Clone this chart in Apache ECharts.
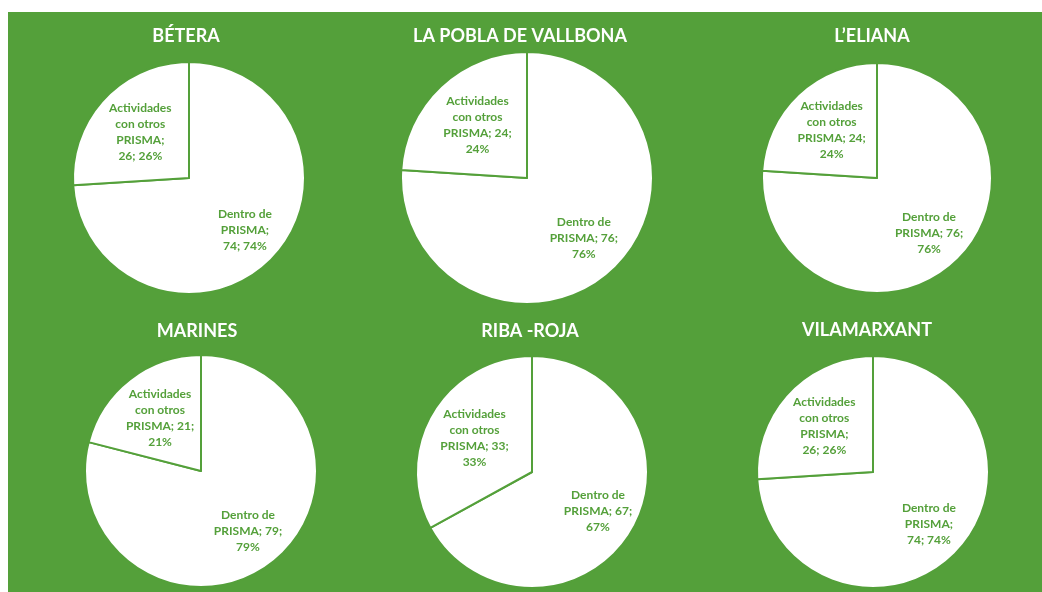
<!DOCTYPE html>
<html>
<head>
<meta charset="utf-8">
<script src="https://cdn.jsdelivr.net/npm/echarts@6/dist/echarts.min.js"></script>
<style>
  html, body { margin: 0; padding: 0; background: #fff; }
  #chart { position: absolute; left: 8px; top: 12px; width: 1034px; height: 580px; }
</style>
</head>
<body>
<div id="chart"></div>
<script>
// datos de cada municipio
const municipios = ['BÉTERA', 'LA POBLA DE VALLBONA', 'L’ELIANA', 'MARINES', 'RIBA -ROJA', 'VILAMARXANT'];
const categorias = ['Dentro de PRISMA', 'Actividades con otros PRISMA'];
const dentro = [74, 76, 76, 79, 67, 74];
const otros = [26, 24, 24, 21, 33, 26];
// como parte Excel las etiquetas: true -> "PRISMA;\n26; 26%"
const cortarAntesValor = [true, false, false, false, false, true];

const VERDE = '#54a03a';

// posicion de cada tarta dentro del grafico
const layout = [
  { cx: 181, cy: 166, r: 116, tx: 173, ty: 23 },
  { cx: 519, cy: 166, r: 126, tx: 507, ty: 23 },
  { cx: 869, cy: 166, r: 115, tx: 859, ty: 23 },
  { cx: 193, cy: 459, r: 116, tx: 184, ty: 318 },
  { cx: 524, cy: 460, r: 116, tx: 517, ty: 318 },
  { cx: 865, cy: 460, r: 116, tx: 854, ty: 317 }
];
// distancia de la etiqueta al centro (radio de la tarta auxiliar / radio real)
const factorEtiqueta = [1.27, 1.10];

const chart = echarts.init(document.getElementById('chart'));

const etiqueta = (corta) => (p) => {
  const head = p.dataIndex === 0 ? 'Dentro de' : 'Actividades\ncon otros';
  const pct = Math.round(p.percent) + '%';
  return corta
    ? head + '\nPRISMA;\n' + p.value + '; ' + pct
    : head + '\nPRISMA; ' + p.value + ';\n' + pct;
};

const series = [];
const titles = [];
municipios.forEach((m, i) => {
  const L = layout[i];
  const data = categorias.map((c, k) => ({ name: c, value: k === 0 ? dentro[i] : otros[i] }));
  titles.push({
    text: m,
    left: L.tx,
    top: L.ty - 13,
    textAlign: 'center',
    textStyle: { color: '#fff', fontSize: 18, fontWeight: 'bold', fontFamily: 'Lato' }
  });
  // tarta visible
  series.push({
    type: 'pie',
    center: [L.cx, L.cy],
    radius: [0, L.r],
    startAngle: 90,
    clockwise: true,
    silent: true,
    label: { show: false },
    labelLine: { show: false },
    itemStyle: { color: '#fff', borderColor: VERDE, borderWidth: 2 },
    data: data
  });
  // tartas invisibles solo para colocar cada etiqueta
  factorEtiqueta.forEach((f, k) => {
    series.push({
      type: 'pie',
      center: [L.cx, L.cy],
      radius: [0, L.r * f],
      startAngle: 90,
      clockwise: true,
      silent: true,
      z: 3,
      itemStyle: { color: 'rgba(0,0,0,0)', borderWidth: 0 },
      label: {
        show: true,
        position: 'inside',
        formatter: etiqueta(cortarAntesValor[i]),
        color: VERDE,
        fontSize: 12,
        fontWeight: 'bold',
        fontFamily: 'Lato',
        lineHeight: 16,
        align: 'center'
      },
      labelLine: { show: false },
      data: data.map((d, j) => j === k ? d : Object.assign({}, d, { label: { show: false } }))
    });
  });
});

chart.setOption({
  backgroundColor: VERDE,
  animation: false,
  title: titles,
  series: series
});
</script>
</body>
</html>
